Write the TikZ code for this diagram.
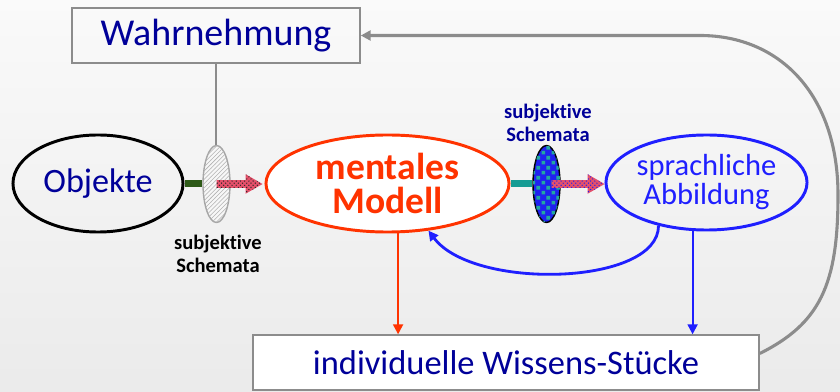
\documentclass[tikz,border=0pt]{standalone}
\usepackage{fontspec}
\setmainfont{Carlito}[Ligatures=NoCommon]
\usepackage{tikz}
\usetikzlibrary{shapes.geometric, shapes.arrows, arrows.meta, patterns}
\definecolor{textblue}{HTML}{000099}
\definecolor{brightblue}{HTML}{1F1FFF}
\definecolor{modelred}{HTML}{FF3300}
\definecolor{darkgreen}{HTML}{2E5A18}
\definecolor{schemateal}{HTML}{169C94}
\definecolor{schemablue}{HTML}{2020F0}
\definecolor{squareteal}{HTML}{22A8A0}
\definecolor{arrowpink}{HTML}{E6506A}
\definecolor{boxgray}{HTML}{8C8C8C}
\pgfdeclarepatternformonly{squares}{\pgfpointorigin}{\pgfpoint{7pt}{7pt}}{\pgfpoint{7pt}{7pt}}{\pgfpathrectangle{\pgfpoint{0.4pt}{0.4pt}}{\pgfpoint{2.6pt}{2.6pt}}\pgfpathrectangle{\pgfpoint{3.9pt}{3.9pt}}{\pgfpoint{2.6pt}{2.6pt}}\pgfusepath{fill}}
\tikzstyle{textbox} = [draw=boxgray, line width=1pt, inner sep=0pt, text=textblue]
\tikzstyle{oval} = [ellipse, line width=2.1pt, inner sep=0pt, align=center]
\tikzstyle{schema} = [ellipse, inner sep=0pt, minimum width=0.675cm, minimum height=1.925cm]
\tikzstyle{fatarrow} = [single arrow, single arrow head extend=0.15cm, single arrow tip angle=60, inner sep=0.0875cm, outer sep=0pt, anchor=tail, fill=arrowpink]
\tikzstyle{schemalabel} = [align=center, font=\bfseries\fontsize{14.6}{16}\selectfont]
\tikzstyle{arrow} = [-{Triangle[length=7pt,width=7pt]}]

\begin{document}
\begin{tikzpicture}[x=0.025cm, y=-0.025cm]
    \useasboundingbox (0,0) rectangle (840,392);
    \shade[top color=gray!4, bottom color=gray!16] (0,0) rectangle (840,392);
    \node[textbox, minimum width=7.2cm, minimum height=1.375cm, font=\fontsize{27}{30}\selectfont] (wahr) at (216,35.5) {Wahrnehmung};
    \node[textbox, fill=white, minimum width=12.65cm, minimum height=1.375cm, font=\fontsize{24.5}{28}\selectfont] (wissen) at (506,362.5) {individuelle Wissens-Stücke};
    \node[oval, draw=black, minimum width=4.25cm, minimum height=2.425cm, text=textblue, font=\fontsize{24.3}{27}\selectfont] (obj) at (98,183.5) {Objekte};
    \node[oval, draw=modelred, fill=white, text=modelred, minimum width=6.075cm, minimum height=2.425cm, font=\bfseries\fontsize{26.7}{24.2}\selectfont] (mm) at (387.5,183.5) {mentales\\Modell};
    \node[oval, draw=brightblue, text=brightblue, minimum width=5.025cm, minimum height=2.375cm, font=\fontsize{21.7}{20.6}\selectfont] (spr) at (706.5,182.5) {sprachliche\\Abbildung};
    \node[schema, draw=gray!70, line width=1pt, fill=gray!6, postaction={pattern=north east lines, pattern color=gray!60}] (schemaA) at (216.5,184) {};
    \node[schema, draw=black, line width=1pt, fill=schemablue, postaction={pattern=squares, pattern color=squareteal}] (schemaB) at (546.5,184) {};
    \node[fatarrow, minimum height=1.15cm, postaction={pattern=crosshatch dots, pattern color=black!85}] (arrA) at (schemaA.center) {};
    \node[fatarrow, minimum height=1.325cm, xshift=0.125cm, postaction={pattern=crosshatch dots, pattern color=schemablue}] (arrB) at (schemaB.center) {};
    \node[schemalabel] (labA) at (218,254) {subjektive\\Schemata};
    \node[schemalabel, text=textblue] (labB) at (548,123) {subjektive\\Schemata};
    \coordinate (turn) at (838,195);
    \coordinate (top) at (700,35.5);
    \draw[boxgray, line width=1pt] (wahr.south) -- (wahr.south |- schemaA.north);
    \draw[darkgreen, line width=0.175cm] (obj.east) -- (obj.east -| schemaA.west);
    \draw[schemateal, line width=0.175cm] (mm.east) -- (mm.east -| schemaB.west);
    \draw[modelred, line width=1.4pt, arrow] (mm.-78) -- (mm.-78 |- wissen.north);
    \draw[brightblue, line width=1.4pt, arrow] (spr.-106) -- (spr.-106 |- wissen.north);
    \draw[brightblue, line width=2pt, arrow] (spr.-138) .. controls +(0,60) and +(45,60) .. (mm.-49);
    \draw[boxgray, line width=2.2pt, arrow] ([yshift=0.225cm]wissen.east) .. controls +(60,-30) and +(0,90) .. (turn) .. controls +(0,-100) and +(80,0) .. (top) -- (wahr.east);
\end{tikzpicture}
\end{document}
